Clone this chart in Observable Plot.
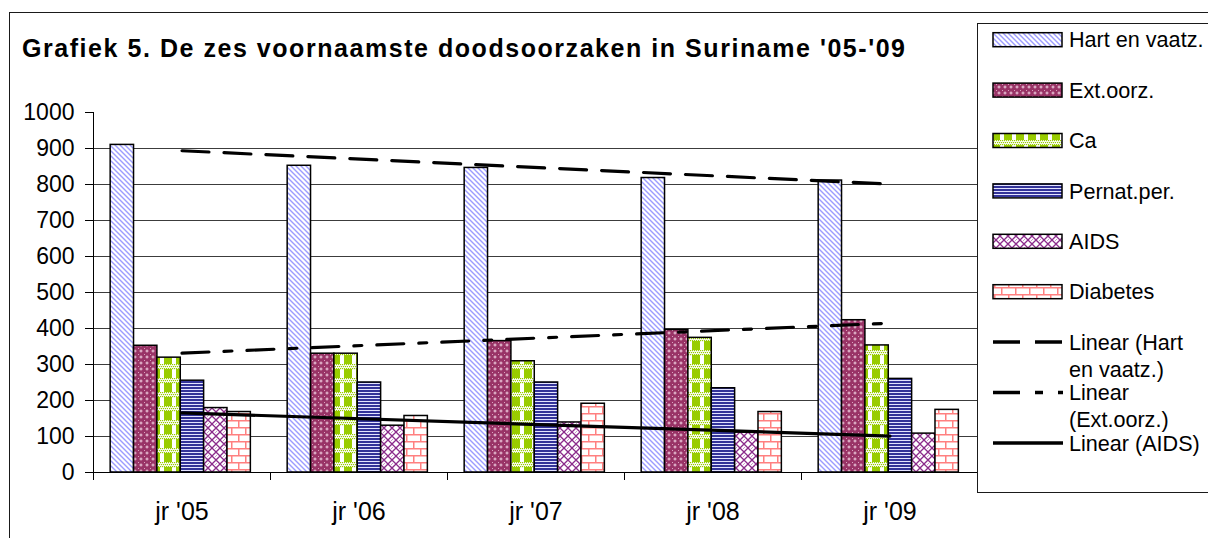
<!DOCTYPE html>
<html>
<head>
<meta charset="utf-8">
<script src="https://cdn.jsdelivr.net/npm/d3@7"></script>
<script src="https://cdn.jsdelivr.net/npm/@observablehq/plot@0.6"></script>
<style>
  html, body { margin: 0; padding: 0; background: white; }
  #wrap { position: relative; width: 1208px; height: 538px; overflow: hidden; background: white; }
  #wrap > svg { position: absolute; left: 0; top: 0; }
  #overlay { pointer-events: none; }
</style>
</head>
<body>
<div id="wrap"></div>
<script>
// ---- data ----
const titleText = "Grafiek 5. De zes voornaamste doodsoorzaken in Suriname '05-'09";
const years = ["jr '05", "jr '06", "jr '07", "jr '08", "jr '09"];
const causes = ["Hart en vaatz.", "Ext.oorz.", "Ca", "Pernat.per.", "AIDS", "Diabetes"];
const hartEnVaatz = [910, 852, 846, 818, 811];
const extOorz = [352, 330, 365, 396, 423];
const ca = [319, 330, 309, 374, 353];
const pernatPer = [255, 250, 250, 234, 260];
const aids = [179, 130, 139, 111, 108];
const diabetes = [168, 157, 191, 168, 174];
const yTicks = [0, 100, 200, 300, 400, 500, 600, 700, 800, 900, 1000];
const trendLabels = [["Linear (Hart", "en vaatz.)"], ["Linear", "(Ext.oorz.)"], ["Linear (AIDS)"]];

// ---- build ----
const series = [hartEnVaatz, extOorz, ca, pernatPer, aids, diabetes];
const rows = series.flatMap((vals, s) => vals.map((v, i) => ({year: years[i], cause: causes[s], s, i, value: v})));
const ns = "http://www.w3.org/2000/svg";
const W = 1208, H = 538;
const font = "'Liberation Sans', Arial, sans-serif";

const BAND_OFF = 0.097, BAR_W = 0.132;
const trendIdx = [0, 1, 4];
const trendDash = ["27,15", "27,15,8,15", null];

const marks = [
  Plot.ruleY(d3.range(100, 1000, 100), {stroke: "#3c3c3c", strokeWidth: 1}),
  ...causes.map((c, s) => Plot.rectY(rows.filter(r => r.s === s), {
    x1: r => r.i + 0.5 + BAND_OFF + r.s * BAR_W,
    x2: r => r.i + 0.5 + BAND_OFF + (r.s + 1) * BAR_W,
    y1: 0,
    y2: "value",
    fill: `url(#pat${s})`,
    stroke: "black",
    strokeWidth: 1.5
  })),
  ...trendIdx.map((s, k) => Plot.linearRegressionY(rows.filter(r => r.s === s), {
    x: r => r.i + 1,
    y: "value",
    ci: 0,
    stroke: "black",
    strokeWidth: 3.2,
    strokeDasharray: trendDash[k]
  })),
  Plot.ruleY([0], {stroke: "black", strokeWidth: 1}),
  Plot.ruleX([0.5], {y1: 0, y2: 1000, stroke: "black", strokeWidth: 1}),
  Plot.axisY({ticks: yTicks, tickSize: 8, tickPadding: 11, label: null, fontSize: 23, tickFormat: d => String(d)}),
  Plot.axisX({ticks: [0.5, 1.5, 2.5, 3.5, 4.5, 5.5], tickSize: 8, tickFormat: () => "", label: null}),
  Plot.axisX({ticks: [1, 2, 3, 4, 5], tickSize: 0, tickPadding: 30, fontSize: 25, tickFormat: d => years[d - 1], label: null})
];

const chart = Plot.plot({
  width: W,
  height: H,
  marginLeft: 93,
  marginRight: W - 978,
  marginTop: 112,
  marginBottom: H - 472,
  x: {domain: [0.5, 5.5]},
  y: {domain: [0, 1000]},
  style: {fontFamily: font, fontSize: "22px", color: "black", background: "white"},
  marks
});
document.getElementById("wrap").appendChild(chart);

// ---- overlay: patterns, border, title, legend ----
function el(tag, attrs, parent) {
  const e = document.createElementNS(ns, tag);
  for (const k in attrs) e.setAttribute(k, attrs[k]);
  if (parent) parent.appendChild(e);
  return e;
}
const ov = el("svg", {id: "overlay", width: W, height: H, viewBox: `0 0 ${W} ${H}`});
const defs = el("defs", {}, ov);

// pattern 0: Hart en vaatz. - light blue diagonal stripes
let p = el("pattern", {id: "pat0", patternUnits: "userSpaceOnUse", width: 5, height: 5}, defs);
el("rect", {width: 5, height: 5, fill: "white"}, p);
el("path", {d: "M-1,-1L6,6M-1,4L1,6M4,-1L6,1", stroke: "#9c9cff", "stroke-width": 1.4}, p);

// pattern 1: Ext.oorz. - maroon with light crosses
p = el("pattern", {id: "pat1", patternUnits: "userSpaceOnUse", width: 6, height: 6}, defs);
el("rect", {width: 6, height: 6, fill: "#993366"}, p);
el("path", {d: "M1.5,3H4.5M3,1.5V4.5", stroke: "#f0cfe0", "stroke-width": 1}, p);
el("rect", {x: 0, y: 0, width: 1, height: 1, fill: "#d9a3bf"}, p);

// pattern 2: Ca - green shingle / checker
p = el("pattern", {id: "pat2", patternUnits: "userSpaceOnUse", width: 12, height: 14}, defs);
el("rect", {width: 12, height: 14, fill: "white"}, p);
for (let x = 0; x < 12; x += 2) for (let y = 0; y < 5; y += 2) {
  el("rect", {x: x + ((y / 2) % 2), y, width: 1.2, height: 1.2, fill: "#99cc00"}, p);
}
el("rect", {x: 0, y: 5, width: 4, height: 9, fill: "#99cc00"}, p);
el("rect", {x: 8, y: 5, width: 4, height: 9, fill: "#99cc00"}, p);

// pattern 3: Pernat.per. - navy horizontal stripes
p = el("pattern", {id: "pat3", patternUnits: "userSpaceOnUse", width: 4, height: 3}, defs);
el("rect", {width: 4, height: 3, fill: "#e4e4ff"}, p);
el("rect", {width: 4, height: 2, fill: "#333399"}, p);

// pattern 4: AIDS - purple weave
p = el("pattern", {id: "pat4", patternUnits: "userSpaceOnUse", width: 8, height: 8}, defs);
el("rect", {width: 8, height: 8, fill: "white"}, p);
el("path", {d: "M0,4L4,0M4,8L8,4M-1,7L1,9M7,-1L9,1M2,6L4,8M4,0L6,2M0,4L2,6M6,2L8,4", stroke: "#8a2a8a", "stroke-width": 1.3, fill: "none"}, p);

// pattern 5: Diabetes - pink bricks
p = el("pattern", {id: "pat5", patternUnits: "userSpaceOnUse", width: 14, height: 14}, defs);
el("rect", {width: 14, height: 14, fill: "white"}, p);
el("path", {d: "M0,0.75H14M0,7.75H14M0.75,0V7.75M7.75,7.75V14", stroke: "#ff8080", "stroke-width": 1.5, fill: "none"}, p);

// outer chart border
el("rect", {x: 9.5, y: 12.5, width: 1300, height: 700, fill: "none", stroke: "#1a1a1a", "stroke-width": 1}, ov);

// title
const t = el("text", {x: 22, y: 57, "font-family": font, "font-size": 25, "font-weight": "bold", fill: "black",
  textLength: 883, lengthAdjust: "spacing"}, ov);
t.textContent = titleText;

// legend box
el("rect", {x: 977.5, y: 23.5, width: 300, height: 469, fill: "white", stroke: "#1a1a1a", "stroke-width": 1}, ov);
const rowY = k => 39.7 + 50.4 * k;
const legendFont = 21.6;
causes.forEach((c, k) => {
  const y = rowY(k);
  el("rect", {x: 993, y: y - 7, width: 69, height: 14, fill: `url(#pat${k})`, stroke: "black", "stroke-width": 1.5}, ov);
  const tx = el("text", {x: 1069, y, dy: "0.36em", "font-family": font, "font-size": legendFont, fill: "black"}, ov);
  tx.textContent = c;
});
trendLabels.forEach((lines, j) => {
  const y = rowY(6 + j);
  const attrs = {x1: 993, x2: 1063, y1: y, y2: y, stroke: "black", "stroke-width": 3.5};
  if (trendDash[j]) attrs["stroke-dasharray"] = trendDash[j];
  el("line", attrs, ov);
  lines.forEach((ln, m) => {
    const tx = el("text", {x: 1069, y: y + 27 * m, dy: "0.36em", "font-family": font, "font-size": legendFont, fill: "black"}, ov);
    tx.textContent = ln;
  });
});

document.getElementById("wrap").appendChild(ov);
</script>
</body>
</html>
